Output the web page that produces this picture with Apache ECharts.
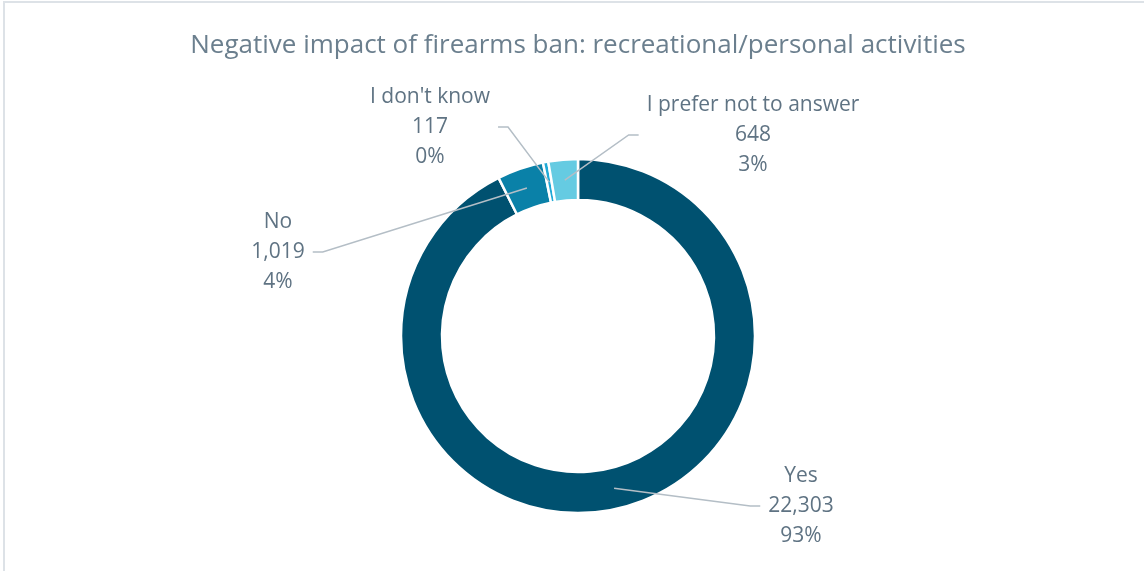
<!DOCTYPE html>
<html>
<head>
<meta charset="utf-8">
<script src="https://cdn.jsdelivr.net/npm/echarts@6/dist/echarts.min.js"></script>
<style>
  html, body { margin: 0; padding: 0; background: #fff; }
  #frame {
    position: absolute; left: 3px; top: 1px; width: 1200px; height: 620px;
    border-top: 2px solid #dde2e7; border-left: 2px solid #dde2e7;
  }
  #chart { position: absolute; left: 0; top: 0; width: 1144px; height: 571px; }
</style>
</head>
<body>
<div id="frame"></div>
<div id="chart"></div>
<script>
// Survey answers, clockwise from 12 o'clock
const categories = ['Yes', 'No', "I don't know", 'I prefer not to answer'];
const counts = [22303, 1019, 117, 648];
const percents = [93, 4, 0, 3];
const colors = ['#005170', '#0a81a8', '#1fa9d6', '#65cbe2'];

// Where each label block sits (centre of the block, px)
const labelSpots = [
  [801, 506],
  [278, 252],
  [430, 127],
  [753, 135]
];

const CENTER = [578, 336];
const R_IN = 136, R_OUT = 177;
const R_MID = (R_IN + R_OUT) / 2;

const fmt = n => n.toLocaleString('en-US');

const chart = echarts.init(document.getElementById('chart'), null, { renderer: 'canvas' });

// Leader line: starts mid-ring at the slice's mid angle, runs to a short
// horizontal stub beside the label block.
function leader(p) {
  const [lx, ly] = labelSpots[p.dataIndex];
  const w = p.labelRect.width;
  const edge = p.labelLinePoints[0];
  const k = R_MID / Math.hypot(edge[0] - CENTER[0], edge[1] - CENTER[1]);
  const start = [CENTER[0] + (edge[0] - CENTER[0]) * k, CENTER[1] + (edge[1] - CENTER[1]) * k];
  const onRight = lx > start[0];
  const side = onRight ? lx - w / 2 - 8 : lx + w / 2 + 8;
  const elbow = onRight ? side - 10 : side + 10;
  return [start, [elbow, ly], [side, ly]];
}

const ringData = categories.map((name, i) => ({ name, value: counts[i] }));

chart.setOption({
  animation: false,
  title: {
    text: 'Negative impact of firearms ban: recreational/personal activities',
    left: CENTER[0] - 5,
    textAlign: 'center',
    top: 28,
    textStyle: {
      fontFamily: 'Open Sans',
      fontSize: 26,
      fontWeight: 'normal',
      color: '#6b7f8e'
    }
  },
  series: [
    {
      // the coloured ring
      type: 'pie',
      center: CENTER,
      radius: [R_IN, R_OUT],
      startAngle: 90,
      clockwise: true,
      silent: true,
      z: 2,
      itemStyle: { borderColor: '#fff', borderWidth: 2.5 },
      data: ringData.map((d, i) => ({ ...d, itemStyle: { color: colors[i] } })),
      label: { show: false },
      labelLine: { show: false }
    },
    {
      // same ring, transparent, carrying labels and leader lines on top
      type: 'pie',
      center: CENTER,
      radius: [R_IN, R_OUT],
      startAngle: 90,
      clockwise: true,
      silent: true,
      z: 3,
      avoidLabelOverlap: false,
      itemStyle: { color: 'rgba(0,0,0,0)', borderWidth: 0 },
      data: ringData,
      label: {
        show: true,
        position: 'outside',
        fontFamily: 'Open Sans',
        fontSize: 21,
        lineHeight: 30,
        color: '#5f7383',
        align: 'center',
        formatter: p => p.name + '\n' + fmt(p.value) + '\n' + percents[p.dataIndex] + '%'
      },
      labelLine: {
        show: true,
        length: 10,
        length2: 8,
        lineStyle: { color: '#b4bec6', width: 1.5 }
      },
      labelLayout: p => ({
        x: labelSpots[p.dataIndex][0],
        y: labelSpots[p.dataIndex][1],
        align: 'center',
        verticalAlign: 'middle',
        labelLinePoints: leader(p)
      })
    }
  ]
});
</script>
</body>
</html>
